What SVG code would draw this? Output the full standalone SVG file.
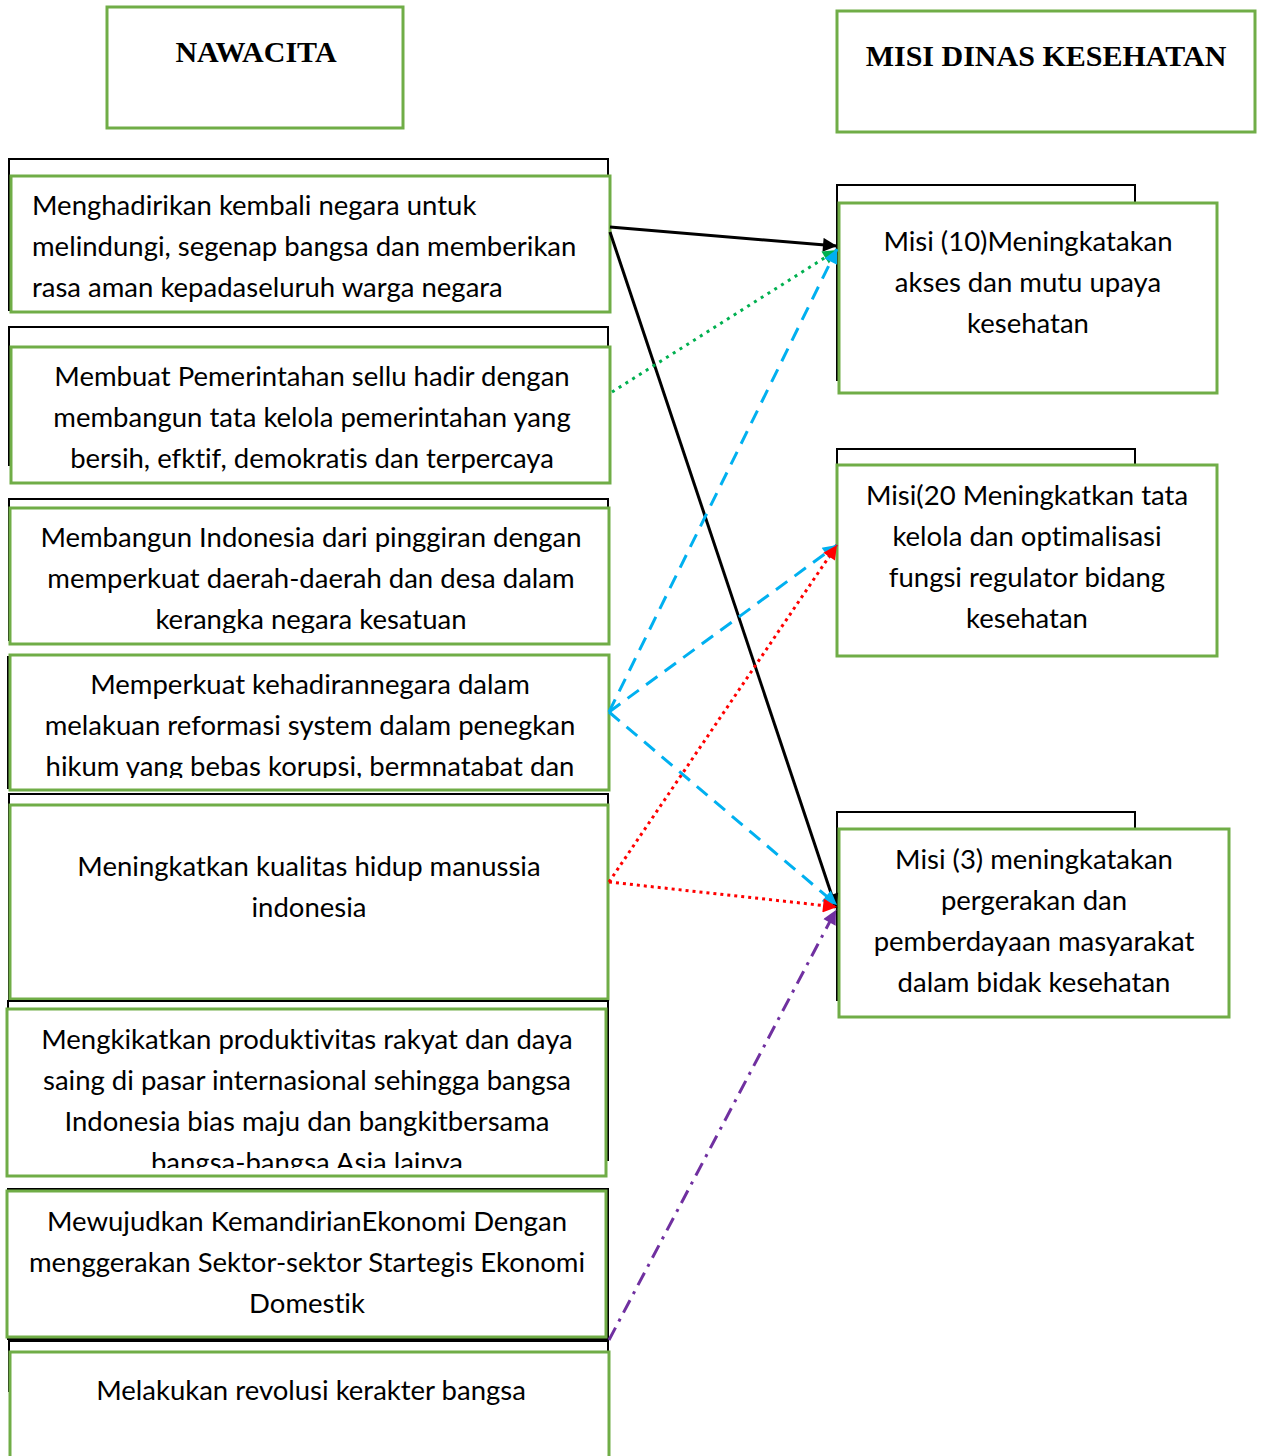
<svg xmlns="http://www.w3.org/2000/svg" width="1261" height="1456" viewBox="0 0 1261 1456">
  <style>
    .back { fill: #ffffff; stroke: #000000; stroke-width: 2; }
    .box { fill: #ffffff; stroke: #70AD47; stroke-width: 3; }
    .head { font-family: "Liberation Serif", "Times New Roman", serif; font-weight: bold; font-size: 30px; fill: #000000; text-anchor: middle; }
    .body { font-family: Lato, "Open Sans", sans-serif; font-size: 27.5px; fill: #000000; font-variant-ligatures: none; }
    .c { text-anchor: middle; }
    .link { fill: none; stroke-width: 3; }
  </style>
  <defs>
    <marker id="arrBlack" viewBox="0 0 10 10" refX="10" refY="5" markerUnits="userSpaceOnUse" markerWidth="18" markerHeight="14" orient="auto"><path d="M0,0 L10,5 L0,10 z" fill="#000000"/></marker>
    <marker id="arrGreen" viewBox="0 0 10 10" refX="10" refY="5" markerUnits="userSpaceOnUse" markerWidth="18" markerHeight="14" orient="auto"><path d="M0,0 L10,5 L0,10 z" fill="#00B050"/></marker>
    <marker id="arrCyan" viewBox="0 0 10 10" refX="10" refY="5" markerUnits="userSpaceOnUse" markerWidth="18" markerHeight="14" orient="auto"><path d="M0,0 L10,5 L0,10 z" fill="#00B0F0"/></marker>
    <marker id="arrRed" viewBox="0 0 10 10" refX="10" refY="5" markerUnits="userSpaceOnUse" markerWidth="18" markerHeight="14" orient="auto"><path d="M0,0 L10,5 L0,10 z" fill="#FF0000"/></marker>
    <marker id="arrPurple" viewBox="0 0 10 10" refX="10" refY="5" markerUnits="userSpaceOnUse" markerWidth="18" markerHeight="14" orient="auto"><path d="M0,0 L10,5 L0,10 z" fill="#7030A0"/></marker>
    <clipPath id="clipN3"><rect x="10" y="508" width="600" height="125"/></clipPath>
    <clipPath id="clipN4"><rect x="10" y="655" width="600" height="123"/></clipPath>
    <clipPath id="clipN6"><rect x="7" y="1009" width="600" height="159"/></clipPath>
  </defs>

  <!-- column headers -->
  <g id="head-nawacita">
    <rect class="box" x="107" y="7" width="296" height="121"/>
    <text class="head" x="256" y="62">NAWACITA</text>
  </g>
  <g id="head-misi">
    <rect class="box" x="837" y="11" width="418" height="121"/>
    <text class="head" x="1046" y="66">MISI DINAS KESEHATAN</text>
  </g>

  <!-- Nawacita items -->
  <g id="n1">
    <rect class="back" x="9" y="159" width="599" height="151"/>
    <rect class="box" x="11" y="176" width="599" height="136"/>
    <text class="body" x="32" y="215">Menghadirikan kembali negara untuk</text>
    <text class="body" x="32" y="256">melindungi, segenap bangsa dan memberikan</text>
    <text class="body" x="32" y="297">rasa aman kepadaseluruh warga negara</text>
  </g>
  <g id="n2">
    <rect class="back" x="9" y="327" width="599" height="138"/>
    <rect class="box" x="11" y="347" width="599" height="136"/>
    <text class="body c" x="312" y="386">Membuat Pemerintahan sellu hadir dengan</text>
    <text class="body c" x="312" y="427">membangun tata kelola pemerintahan yang</text>
    <text class="body c" x="312" y="468">bersih, efktif, demokratis dan terpercaya</text>
  </g>
  <g id="n3">
    <rect class="back" x="9" y="499" width="599" height="141"/>
    <rect class="box" x="10" y="508" width="599" height="136"/>
    <g clip-path="url(#clipN3)">
      <text class="body c" x="311" y="547">Membangun Indonesia dari pinggiran dengan</text>
      <text class="body c" x="311" y="588">memperkuat daerah-daerah dan desa dalam</text>
      <text class="body c" x="311" y="629">kerangka negara kesatuan</text>
    </g>
  </g>
  <g id="n4">
    <rect class="back" x="8" y="657" width="599" height="131"/>
    <rect class="box" x="10" y="655" width="599" height="135"/>
    <g clip-path="url(#clipN4)">
      <text class="body c" x="310" y="694">Memperkuat kehadirannegara dalam</text>
      <text class="body c" x="310" y="735">melakuan reformasi system dalam penegkan</text>
      <text class="body c" x="310" y="776">hikum yang bebas korupsi, bermnatabat dan</text>
    </g>
  </g>
  <g id="n5">
    <rect class="back" x="9" y="794" width="599" height="206"/>
    <rect class="box" x="10" y="805" width="598" height="194"/>
    <text class="body c" x="309" y="876">Meningkatkan kualitas hidup manussia</text>
    <text class="body c" x="309" y="917">indonesia</text>
  </g>
  <g id="n6">
    <rect class="back" x="8" y="1001" width="600" height="159"/>
    <rect class="box" x="7" y="1009" width="599" height="167"/>
    <g clip-path="url(#clipN6)">
      <text class="body c" x="307" y="1049">Mengkikatkan produktivitas rakyat dan daya</text>
      <text class="body c" x="307" y="1090">saing di pasar internasional sehingga bangsa</text>
      <text class="body c" x="307" y="1131">Indonesia bias maju dan bangkitbersama</text>
      <text class="body c" x="307" y="1172">bangsa-bangsa Asia lainya</text>
    </g>
  </g>
  <g id="n7">
    <rect class="back" x="8" y="1189" width="600" height="150"/>
    <rect class="box" x="7" y="1191" width="599" height="146"/>
    <text class="body c" x="307" y="1231">Mewujudkan KemandirianEkonomi Dengan</text>
    <text class="body c" x="307" y="1272">menggerakan Sektor-sektor Startegis Ekonomi</text>
    <text class="body c" x="307" y="1313">Domestik</text>
  </g>
  <g id="n8">
    <rect class="back" x="9" y="1341" width="599" height="50"/>
    <rect class="box" x="10" y="1352" width="599" height="120"/>
    <text class="body c" x="311" y="1400">Melakukan revolusi kerakter bangsa</text>
  </g>

  <!-- Dinas Kesehatan missions -->
  <g id="m1">
    <rect class="back" x="837" y="185" width="298" height="195"/>
    <rect class="box" x="839" y="203" width="378" height="190"/>
    <text class="body c" x="1028" y="251">Misi (10)Meningkatakan</text>
    <text class="body c" x="1028" y="292">akses dan mutu upaya</text>
    <text class="body c" x="1028" y="333">kesehatan</text>
  </g>
  <g id="m2">
    <rect class="back" x="837" y="449" width="298" height="195"/>
    <rect class="box" x="837" y="465" width="380" height="191"/>
    <text class="body c" x="1027" y="505">Misi(20 Meningkatkan tata</text>
    <text class="body c" x="1027" y="546">kelola dan optimalisasi</text>
    <text class="body c" x="1027" y="587">fungsi regulator bidang</text>
    <text class="body c" x="1027" y="628">kesehatan</text>
  </g>
  <g id="m3">
    <rect class="back" x="837" y="812" width="298" height="188"/>
    <rect class="box" x="839" y="829" width="390" height="188"/>
    <text class="body c" x="1034" y="869">Misi (3) meningkatakan</text>
    <text class="body c" x="1034" y="910">pergerakan dan</text>
    <text class="body c" x="1034" y="951">pemberdayaan masyarakat</text>
    <text class="body c" x="1034" y="992">dalam bidak kesehatan</text>
  </g>

  <!-- connectors -->
  <g id="connectors">
    <line class="link" x1="610" y1="227" x2="837" y2="246" stroke="#000000" marker-end="url(#arrBlack)"/>
    <line class="link" x1="610" y1="232" x2="836" y2="908" stroke="#000000" marker-end="url(#arrBlack)"/>
    <line class="link" x1="612" y1="392" x2="837" y2="250" stroke="#00B050" stroke-dasharray="3 5" marker-end="url(#arrGreen)"/>
    <line class="link" x1="609" y1="712" x2="837" y2="249" stroke="#00B0F0" stroke-dasharray="14 9" marker-end="url(#arrCyan)"/>
    <line class="link" x1="609" y1="712" x2="837" y2="545" stroke="#00B0F0" stroke-dasharray="14 9" marker-end="url(#arrCyan)"/>
    <line class="link" x1="609" y1="712" x2="837" y2="905" stroke="#00B0F0" stroke-dasharray="14 9" marker-end="url(#arrCyan)"/>
    <line class="link" x1="609" y1="882" x2="837" y2="545" stroke="#FF0000" stroke-dasharray="3 4" marker-end="url(#arrRed)"/>
    <line class="link" x1="609" y1="882" x2="837" y2="907" stroke="#FF0000" stroke-dasharray="3 4" marker-end="url(#arrRed)"/>
    <line class="link" x1="609" y1="1340" x2="836" y2="910" stroke="#7030A0" stroke-dasharray="14 7 3 7" marker-end="url(#arrPurple)"/>
  </g>
</svg>
